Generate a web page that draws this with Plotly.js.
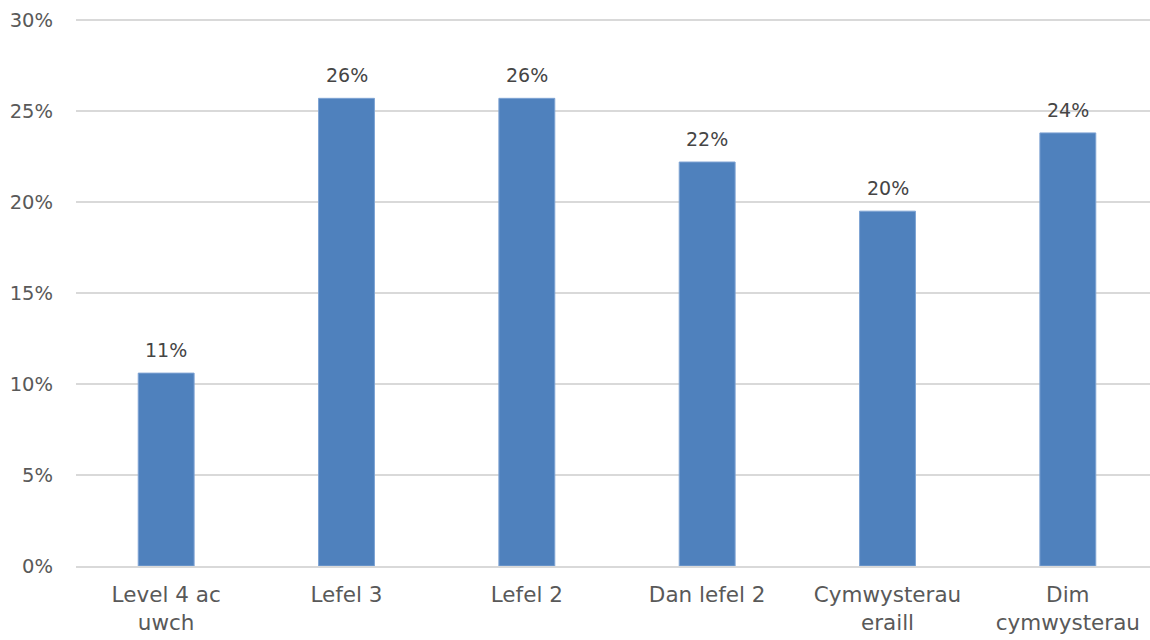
<!DOCTYPE html>
<html>
<head>
<meta charset="utf-8">
<script src="https://cdn.plot.ly/plotly-3.0.1.min.js"></script>
<style>
html,body{margin:0;padding:0;overflow:hidden;background:#fff;}
#chart{width:1160px;height:640px;}
</style>
</head>
<body>
<div id="chart"></div>
<script>
var categories = ["Level 4 ac<br>uwch", "Lefel 3", "Lefel 2", "Dan lefel 2", "Cymwysterau<br>eraill", "Dim<br>cymwysterau"];
var values = [10.6, 25.7, 25.7, 22.2, 19.5, 23.8];
var tickValues = [0, 5, 10, 15, 20, 25, 30];
var tickLabels = ["0%", "5%", "10%", "15%", "20%", "25%", "30%"];

var fontFamily = "DejaVu Sans, sans-serif";
var textColor = "#595959";

var trace = {
  type: "bar",
  x: categories,
  y: values,
  marker: {color: "#4f81bd", line: {color: "#7ea3d3", width: 1}},
  hoverinfo: "none"
};

var annotations = categories.map(function(c, i) {
  return {
    x: c, y: values[i], xref: "x", yref: "y",
    text: Math.round(values[i]) + "%",
    showarrow: false, yanchor: "bottom", yshift: 10,
    font: {family: fontFamily, size: 19, color: "#454545"}
  };
});

var layout = {
  width: 1160, height: 640,
  margin: {l: 76, r: 2, t: 19, b: 74},
  paper_bgcolor: "#fff", plot_bgcolor: "#fff",
  bargap: 0.69,
  showlegend: false,
  font: {family: fontFamily, size: 19, color: textColor},
  xaxis: {
    type: "category",
    showgrid: false,
    showline: true, linecolor: "#d9d9d9", linewidth: 2,
    zeroline: false,
    ticks: "",
    ticklabelstandoff: 8,
    tickfont: {family: fontFamily, size: 21.5, color: textColor}
  },
  yaxis: {
    range: [0, 30.06],
    tickvals: tickValues, ticktext: tickLabels,
    showgrid: true, gridcolor: "#d9d9d9", gridwidth: 2,
    zeroline: false, showline: false,
    ticks: "",
    ticklabelstandoff: 22,
    tickfont: {family: fontFamily, size: 19.5, color: textColor}
  },
  annotations: annotations
};

Plotly.newPlot("chart", [trace], layout, {displayModeBar: false, staticPlot: true});
</script>
</body>
</html>
